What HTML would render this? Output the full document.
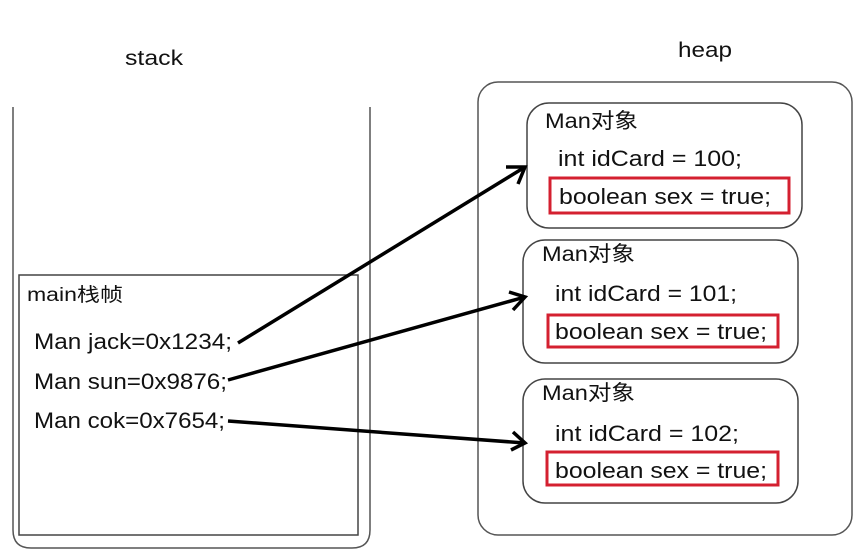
<!DOCTYPE html>
<html><head><meta charset="utf-8"><style>
body{margin:0;background:#fff;}
svg text{font-family:"Liberation Sans","Noto Sans CJK SC",sans-serif;fill:#111;}
</style></head><body>
<svg width="861" height="555" viewBox="0 0 861 555" xmlns="http://www.w3.org/2000/svg">
<text x="125" y="65" font-size="21" textLength="58" lengthAdjust="spacingAndGlyphs">stack</text>
<text x="678" y="57" font-size="21" textLength="54" lengthAdjust="spacingAndGlyphs">heap</text>
<path d="M13,107 V530 Q13,548 31,548 H352 Q370,548 370,530 V107" fill="none" stroke="#555" stroke-width="1.5"/>
<rect x="19" y="275" width="339" height="260" fill="none" stroke="#444" stroke-width="1.5"/>
<text x="27" y="301" font-size="19" textLength="96" lengthAdjust="spacingAndGlyphs">main栈帧</text>
<text x="34" y="349" font-size="22" textLength="198" lengthAdjust="spacingAndGlyphs">Man jack=0x1234;</text>
<text x="34" y="389" font-size="22" textLength="193" lengthAdjust="spacingAndGlyphs">Man sun=0x9876;</text>
<text x="34" y="428" font-size="22" textLength="191" lengthAdjust="spacingAndGlyphs">Man cok=0x7654;</text>
<rect x="478" y="82" width="374" height="453" rx="20" fill="none" stroke="#555" stroke-width="1.5"/>
<rect x="527" y="103" width="275" height="125" rx="22" fill="none" stroke="#444" stroke-width="1.5"/>
<rect x="523" y="240" width="275" height="123" rx="22" fill="none" stroke="#444" stroke-width="1.5"/>
<rect x="523" y="379" width="275" height="124" rx="22" fill="none" stroke="#444" stroke-width="1.5"/>
<rect x="550" y="178" width="239" height="35" fill="none" stroke="#d42030" stroke-width="3"/>
<rect x="548" y="315" width="230" height="32" fill="none" stroke="#d42030" stroke-width="3"/>
<rect x="547" y="452" width="231" height="33" fill="none" stroke="#d42030" stroke-width="3"/>
<text x="545" y="128" font-size="21" textLength="93" lengthAdjust="spacingAndGlyphs">Man对象</text>
<text x="558" y="166" font-size="22" textLength="184" lengthAdjust="spacingAndGlyphs">int idCard = 100;</text>
<text x="559" y="204" font-size="22" textLength="212" lengthAdjust="spacingAndGlyphs">boolean sex = true;</text>
<text x="542" y="261" font-size="21" textLength="93" lengthAdjust="spacingAndGlyphs">Man对象</text>
<text x="555" y="301" font-size="22" textLength="182" lengthAdjust="spacingAndGlyphs">int idCard = 101;</text>
<text x="555" y="339" font-size="22" textLength="212" lengthAdjust="spacingAndGlyphs">boolean sex = true;</text>
<text x="542" y="400" font-size="21" textLength="93" lengthAdjust="spacingAndGlyphs">Man对象</text>
<text x="555" y="441" font-size="22" textLength="184" lengthAdjust="spacingAndGlyphs">int idCard = 102;</text>
<text x="555" y="478" font-size="22" textLength="212" lengthAdjust="spacingAndGlyphs">boolean sex = true;</text>
<g stroke="#000" stroke-width="3.5" fill="none">
<line x1="238" y1="343" x2="525" y2="167"/>
<path d="M506,167 L525,167 L518,184"/>
<line x1="228" y1="380" x2="525" y2="297"/>
<path d="M509,292 L525,297 L513,310"/>
<line x1="228" y1="421" x2="525" y2="443"/>
<path d="M513,432 L525,443 L511,450"/>
</g>
</svg>
</body></html>
